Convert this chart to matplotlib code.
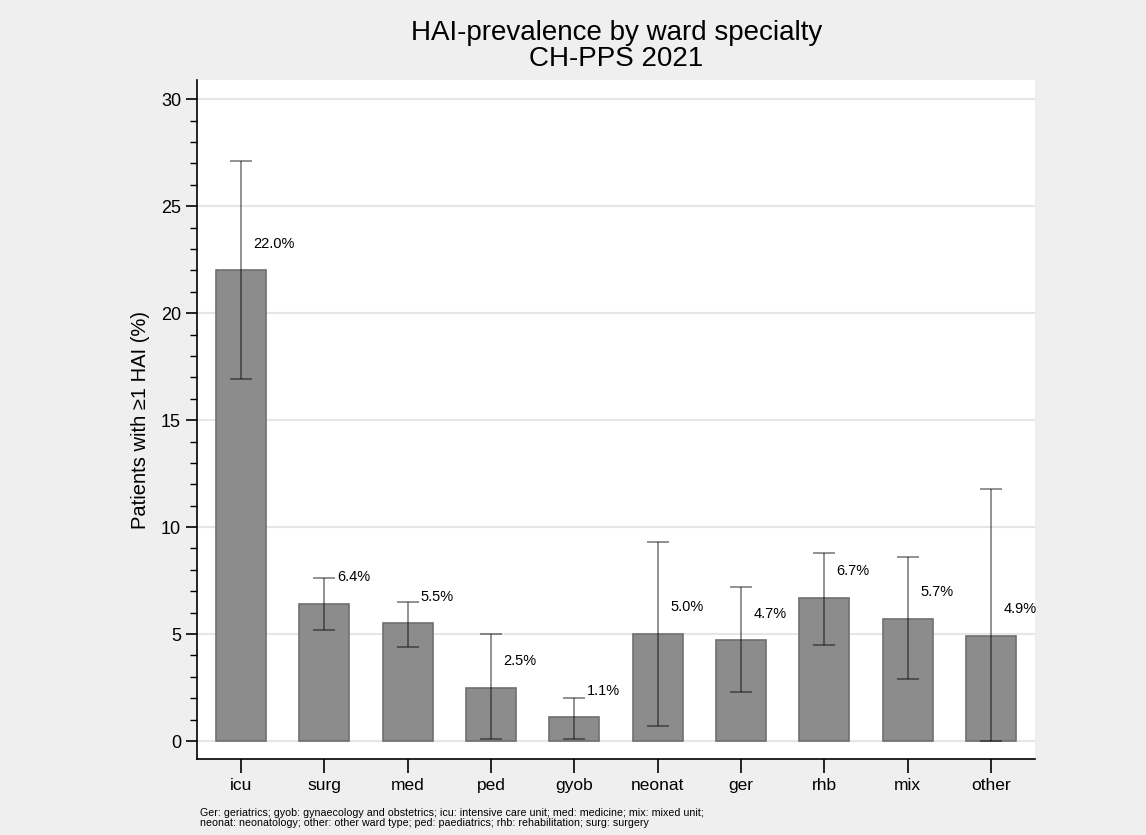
import matplotlib.pyplot as plt
from matplotlib.ticker import MultipleLocator

# data
wards = ["icu", "surg", "med", "ped", "gyob", "neonat", "ger", "rhb", "mix", "other"]
prevalence = [22.0, 6.4, 5.5, 2.5, 1.1, 5.0, 4.7, 6.7, 5.7, 4.9]
ci_low = [16.9, 5.2, 4.4, 0.1, 0.1, 0.7, 2.3, 4.5, 2.9, 0.0]
ci_high = [27.1, 7.6, 6.5, 5.0, 2.0, 9.3, 7.2, 8.8, 8.6, 11.8]

footnote = ("Ger: geriatrics; gyob: gynaecology and obstetrics; icu: intensive care unit; "
            "med: medicine; mix: mixed unit;\n"
            "neonat: neonatology; other: other ward type; ped: paediatrics; "
            "rhb: rehabilitation; surg: surgery")

plt.rcParams['font.family'] = ['Liberation Sans', 'DejaVu Sans']

fig = plt.figure(figsize=(11.46, 8.35), dpi=100, facecolor="#efefef")
ax = fig.add_axes([197 / 1146, 1 - 759 / 835, (1035 - 197) / 1146, (759 - 80) / 835])
ax.set_facecolor("white")

x = list(range(len(wards)))
ax.bar(x, prevalence, width=0.6, color="#8c8c8c", edgecolor="#707070", linewidth=1.2, zorder=2)
yerr = [[p - lo for p, lo in zip(prevalence, ci_low)],
        [hi - p for p, hi in zip(prevalence, ci_high)]]
ax.errorbar(x, prevalence, yerr=yerr, fmt="none", ecolor="black", alpha=0.5,
            elinewidth=1.2, capsize=8, capthick=1.2, zorder=3)

for i, p in enumerate(prevalence):
    ax.text(i + 0.15, p + 1.25, f"{p:.1f}%", ha="left", va="center", fontsize=10.5, zorder=4)

ax.set_xlim(-0.53, 9.53)
ax.set_ylim(-0.84, 30.9)
ax.set_xticks(x)
ax.set_xticklabels(wards, fontsize=12.5)
ax.yaxis.set_major_locator(MultipleLocator(5))
ax.yaxis.set_minor_locator(MultipleLocator(1))
ax.tick_params(axis="y", which="major", length=8, width=1.2, labelsize=13)
ax.tick_params(axis="y", which="minor", length=5, width=1.0)
ax.tick_params(axis="x", length=10, width=1.2, pad=4)
ax.grid(axis="y", which="major", color="#e6e6e6", linewidth=1.5, zorder=0)
ax.set_axisbelow(True)

for s in ["top", "right"]:
    ax.spines[s].set_visible(False)
for s in ["left", "bottom"]:
    ax.spines[s].set_linewidth(1.2)

ax.set_ylabel("Patients with ≥1 HAI (%)", fontsize=14.5, labelpad=8)
fig.text(0.538, 1 - 46 / 835, "HAI-prevalence by ward specialty\nCH-PPS 2021",
         ha="center", va="center", fontsize=20, linespacing=1.0)
fig.text(200 / 1146, 1 - 818 / 835, footnote, ha="left", va="center", fontsize=7.7,
         linespacing=1.1)

fig.savefig("out.png", dpi=100, facecolor=fig.get_facecolor())
